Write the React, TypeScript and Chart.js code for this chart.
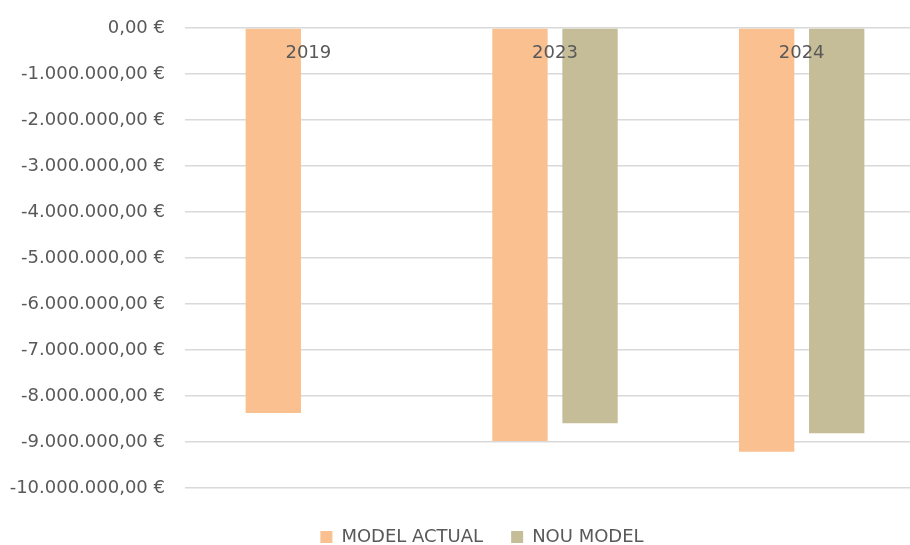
import React, { useEffect, useRef } from 'react';
import { Chart, registerables } from 'chart.js';

Chart.register(...registerables);

// ---- data ----
const categories: string[] = ['2019', '2023', '2024'];
const seriesNames: string[] = ['MODEL ACTUAL', 'NOU MODEL'];
const modelActual: (number | null)[] = [-8370000, -8980000, -9210000];
const nouModel: (number | null)[] = [null, -8590000, -8810000];
const yMin = -10000000;
const yMax = 0;
const yStep = 1000000;

const seriesColors = ['#FAC090', '#C4BD97'];
const textColor = '#595959';
const gridColor = '#D9D9D9';
const FONT = '"DejaVu Sans", sans-serif';

const CANVAS_W = 964;
const CANVAS_H = 556;

function formatEuro(v: number): string {
  const n = Math.round(Math.abs(v));
  const s = n.toString().replace(/\B(?=(\d{3})+(?!\d))/g, '.');
  return (v < 0 ? '-' : '') + s + ',00 €';
}

export default function App() {
  const ref = useRef<HTMLCanvasElement | null>(null);

  useEffect(() => {
    if (!ref.current) return;
    Chart.defaults.font.family = FONT;
    Chart.defaults.font.size = 18;
    Chart.defaults.color = textColor;

    const chart = new Chart(ref.current, {
      type: 'bar',
      data: {
        labels: categories,
        datasets: [
          {
            label: seriesNames[0],
            data: modelActual,
            backgroundColor: seriesColors[0],
            borderWidth: 0,
            xAxisID: 'x',
            yAxisID: 'y',
            categoryPercentage: 0.568,
            barPercentage: 0.79,
          },
          {
            label: seriesNames[1],
            data: nouModel,
            backgroundColor: seriesColors[1],
            borderWidth: 0,
            xAxisID: 'x',
            yAxisID: 'y',
            categoryPercentage: 0.568,
            barPercentage: 0.79,
          },
        ],
      },
      options: {
        animation: false,
        responsive: false,
        maintainAspectRatio: false,
        devicePixelRatio: 1,
        layout: { padding: { top: 28, left: 0, right: 0, bottom: 0 } },
        plugins: {
          tooltip: { enabled: false },
          title: { display: false },
          legend: {
            display: true,
            position: 'bottom',
            align: 'center',
            labels: {
              boxWidth: 12,
              boxHeight: 12,
              padding: 28,
              color: textColor,
              font: { family: FONT, size: 18 },
            },
          },
        },
        scales: {
          x: {
            type: 'category',
            position: { y: 0 } as any,
            offset: true,
            grid: { display: false, drawTicks: false },
            border: { display: false },
            ticks: {
              z: 1,
              padding: 15,
              color: textColor,
              font: { family: FONT, size: 18 },
              maxRotation: 0,
              autoSkip: false,
            },
          },
          xPad: {
            type: 'category',
            position: 'bottom',
            grid: { display: false, drawTicks: false },
            border: { display: false },
            ticks: { display: false },
            afterFit: (s: any) => {
              s.height = 12;
            },
          },
          y: {
            type: 'linear',
            position: 'left',
            min: yMin,
            max: yMax,
            grid: { color: gridColor, lineWidth: 1.4, drawTicks: false },
            border: { display: false },
            ticks: {
              stepSize: yStep,
              padding: 20,
              color: textColor,
              font: { family: FONT, size: 18 },
              callback: (v: any) => formatEuro(Number(v)),
            },
            afterFit: (s: any) => {
              s.width = 185;
              s.paddingTop = 0;
              s.paddingBottom = 0;
            },
          },
          yPad: {
            type: 'linear',
            position: 'right',
            grid: { display: false, drawTicks: false },
            border: { display: false },
            ticks: { display: false },
            afterFit: (s: any) => {
              s.width = CANVAS_W - 925;
            },
          },
        },
      },
    });
    return () => chart.destroy();
  }, []);

  return (
    <div
      style={{
        position: 'fixed',
        left: 0,
        top: 0,
        width: 910,
        height: 545,
        overflow: 'hidden',
        background: '#ffffff',
      }}
    >
      <canvas
        ref={ref}
        width={CANVAS_W}
        height={CANVAS_H}
        style={{ display: 'block', width: CANVAS_W, height: CANVAS_H }}
      />
    </div>
  );
}
